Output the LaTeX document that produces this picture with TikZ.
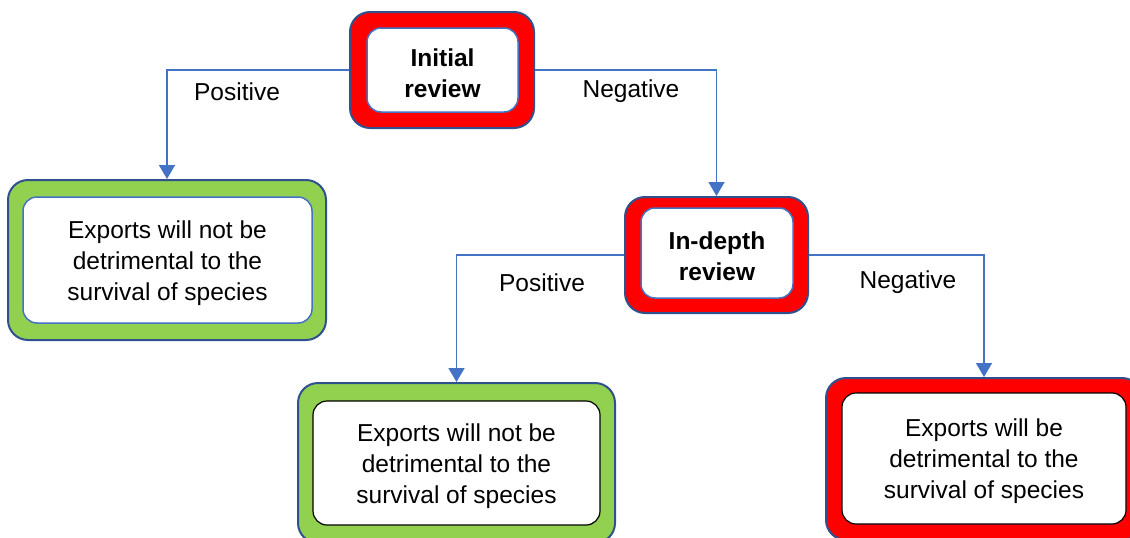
\documentclass[tikz,border=0pt]{standalone}
\usepackage{fontspec}
\setmainfont{Liberation Sans}
\usetikzlibrary{arrows.meta}
\definecolor{redfill}{HTML}{FF0000}
\definecolor{greenfill}{HTML}{92D050}
\definecolor{bordc}{HTML}{2F528F}
\definecolor{linec}{HTML}{4472C4}
\newcommand{\dn}{\rule{0pt}{24pt}}
\tikzset{
  outerbox/.style={draw=bordc, line width=2pt, rounded corners=20pt, inner sep=0pt},
  redbox/.style={outerbox, fill=redfill},
  greenbox/.style={outerbox, fill=greenfill},
  innerbox/.style={fill=white, line width=1.5pt, rounded corners=14pt, inner sep=0pt, align=center,
    font=\fontsize{24.5}{31}\selectfont},
  innerblue/.style={innerbox, draw=linec},
  innerdark/.style={innerbox, draw=black, line width=1.2pt},
  conn/.style={draw=linec, line width=1.5pt, -{Triangle[width=16pt,length=14pt]}},
  lbl/.style={font=\fontsize{24.5}{31}\selectfont, inner sep=0pt}
}
\begin{document}
\begin{tikzpicture}[x=1pt,y=-1pt]
\useasboundingbox (0,0) rectangle (1130,538);
\clip (0,0) rectangle (1130,538);
% outer boxes
\node[redbox, minimum width=184pt, minimum height=116pt] (top) at (442,70) {};
\node[redbox, minimum width=183pt, minimum height=116pt] (ind) at (716.5,255) {};
\node[greenbox, minimum width=318pt, minimum height=160pt] (lg) at (167,260) {};
\node[greenbox, minimum width=317pt, minimum height=160pt] (mg) at (456.5,463) {};
\node[redbox, minimum width=316pt, minimum height=162pt] (rr) at (984,459) {};
% inner boxes
\node[innerblue, minimum width=151pt, minimum height=84pt, font=\fontsize{24.5}{31}\selectfont\bfseries] (topi) at (442.5,70) {\dn Initial\\review};
\node[innerblue, minimum width=152pt, minimum height=90pt, font=\fontsize{24.5}{31}\selectfont\bfseries] (indi) at (717,253) {\dn In-depth\\review};
\node[innerblue, minimum width=289pt, minimum height=126pt] (lgi) at (167.5,260) {\dn Exports will not be\\detrimental to the\\survival of species};
\node[innerdark, minimum width=287pt, minimum height=124pt] (mgi) at (456.5,463) {\dn Exports will not be\\detrimental to the\\survival of species};
\node[innerdark, minimum width=284pt, minimum height=131pt] (rri) at (984,458.5) {\dn Exports will be\\detrimental to the\\survival of species};
% connectors
\draw[conn] (top.west) -| (lg.north);
\draw[conn] (top.east) -| (ind.north);
\draw[conn] (ind.west) -| (mg.north);
\draw[conn] (ind.east) -| (rr.north);
% labels
\node[lbl] (l1) at (237,92) {Positive};
\node[lbl] (l2) at (631,91) {Negative};
\node[lbl] (l3) at (542,283) {Positive};
\node[lbl] (l4) at (908,282) {Negative};
\end{tikzpicture}
\end{document}
